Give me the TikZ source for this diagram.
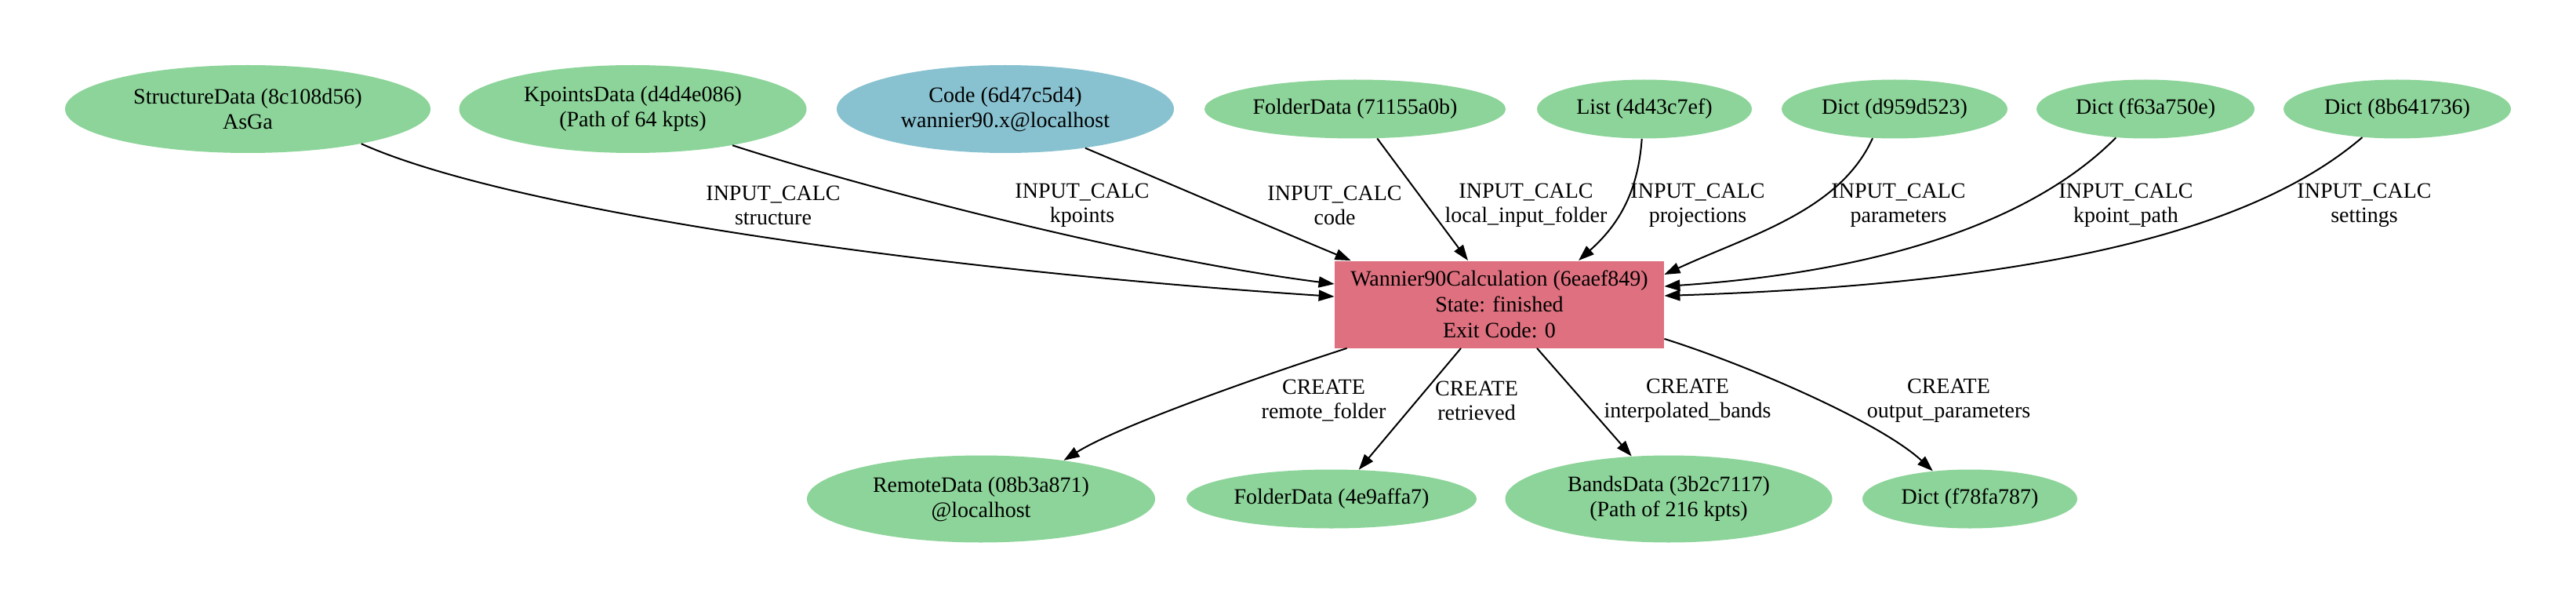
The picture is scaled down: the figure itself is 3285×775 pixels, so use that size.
\documentclass[tikz,border=0pt]{standalone}
\usepackage{fontspec}
\setmainfont{Liberation Serif}
\usetikzlibrary{arrows.meta,shapes.geometric}
\definecolor{datagreen}{RGB}{140,212,153}
\definecolor{codeblue}{RGB}{136,194,208}
\definecolor{calcred}{RGB}{222,112,127}

\begin{document}
\begin{tikzpicture}[x=0.5pt,y=-0.5pt,
    datanode/.style={ellipse,fill=datagreen,inner sep=0pt,align=center,font=\fontsize{14}{16}\selectfont},
    codenode/.style={datanode,fill=codeblue},
    calcnode/.style={rectangle,fill=calcred,inner sep=0pt,align=center,font=\fontsize{14}{16.5}\selectfont},
    edgelabel/.style={align=center,font=\fontsize{14}{15.5}\selectfont},
    link/.style={line width=1pt,-{Triangle[length=10pt,width=7pt]}}]
            \useasboundingbox (0,0) rectangle (3285,775);
            % inputs
            \node[datanode,minimum width=233pt,minimum height=56pt] (sd) at (316,139) {StructureData (8c108d56)\\AsGa};
            \node[datanode,minimum width=221.5pt,minimum height=56pt] (kp) at (807,139) {KpointsData (d4d4e086)\\(Path of 64 kpts)};
            \node[codenode,minimum width=215pt,minimum height=56pt] (code) at (1282,139) {Code (6d47c5d4)\\wannier90.x@localhost};
            \node[datanode,minimum width=192pt,minimum height=37.5pt] (fdin) at (1728,139) {FolderData (71155a0b)};
            \node[datanode,minimum width=137pt,minimum height=37.5pt] (list) at (2097,139) {List (4d43c7ef)};
            \node[datanode,minimum width=144pt,minimum height=37.5pt] (dpar) at (2416,139) {Dict (d959d523)};
            \node[datanode,minimum width=139pt,minimum height=37.5pt] (dkp) at (2736,139) {Dict (f63a750e)};
            \node[datanode,minimum width=145pt,minimum height=37.5pt] (dset) at (3057,139) {Dict (8b641736)};
            % calculation
            \node[calcnode,minimum width=210pt,minimum height=55.5pt] (calc) at (1912,388) {Wannier90Calculation (6eaef849)\\State: finished\\Exit Code: 0};
            % outputs
            \node[datanode,minimum width=222pt,minimum height=55.5pt] (rd) at (1251,636) {RemoteData (08b3a871)\\@localhost};
            \node[datanode,minimum width=185pt,minimum height=37.5pt] (fdout) at (1698,636) {FolderData (4e9affa7)};
            \node[datanode,minimum width=208.5pt,minimum height=55.5pt] (bd) at (2128,636) {BandsData (3b2c7117)\\(Path of 216 kpts)};
            \node[datanode,minimum width=137pt,minimum height=37.5pt] (dout) at (2512,636) {Dict (f78fa787)};
            % input links
            \draw[link] (sd.-17) .. controls +(194,87) and +(-502,-33) .. ([yshift=5pt]calc.west);
            \draw[link] (kp.-20) .. controls +(167,54) and +(-252,-32) .. ([yshift=13pt]calc.west);
            \draw[link] (code.-26) .. controls +(97,41) and +(-103,-43) .. ([xshift=10.5pt]calc.north west);
            \draw[link] (fdin.-53) -- ([xshift=-20pt]calc.north);
            \draw[link] (list.-95) .. controls +(-5,73) and +(47,-42) .. ([xshift=50.5pt]calc.north);
            \draw[link] (dpar.-127) .. controls +(-42,93) and +(108,-50) .. ([yshift=19pt]calc.east);
            \draw[link] (dkp.-136) .. controls +(-97,98) and +(298,-20) .. ([yshift=11.5pt]calc.east);
            \draw[link] (dset.-141) .. controls +(-123,105) and +(528,-17) .. ([yshift=5.5pt]calc.east);
            % output links
            \draw[link] ([xshift=8pt]calc.south west) .. controls +(-78,25) and +(75,-47) .. (rd.25);
            \draw[link] ([xshift=-24.5pt]calc.south) -- (fdout.47);
            \draw[link] ([xshift=24pt]calc.south) -- (bd.131);
            \draw[link] ([yshift=6pt]calc.south east) .. controls +(108,34) and +(-67,-62) .. (dout.143);
            % link labels
            \node[edgelabel] (lsd) at (986,262) {INPUT\_CALC\\structure};
            \node[edgelabel] (lkp) at (1380,262) {INPUT\_CALC\\kpoints};
            \node[edgelabel] (lcode) at (1702,262) {INPUT\_CALC\\code};
            \node[edgelabel] (lfdin) at (1946,262) {INPUT\_CALC\\local\_input\_folder};
            \node[edgelabel] (llist) at (2165,262) {INPUT\_CALC\\projections};
            \node[edgelabel] (ldpar) at (2421,262) {INPUT\_CALC\\parameters};
            \node[edgelabel] (ldkp) at (2711,262) {INPUT\_CALC\\kpoint\_path};
            \node[edgelabel] (ldset) at (3015,262) {INPUT\_CALC\\settings};
            \node[edgelabel] (lrd) at (1688,511) {CREATE\\remote\_folder};
            \node[edgelabel] (lfdout) at (1883,511) {CREATE\\retrieved};
            \node[edgelabel] (lbd) at (2152,511) {CREATE\\interpolated\_bands};
            \node[edgelabel] (ldout) at (2485,511) {CREATE\\output\_parameters};
        \end{tikzpicture}
\end{document}
